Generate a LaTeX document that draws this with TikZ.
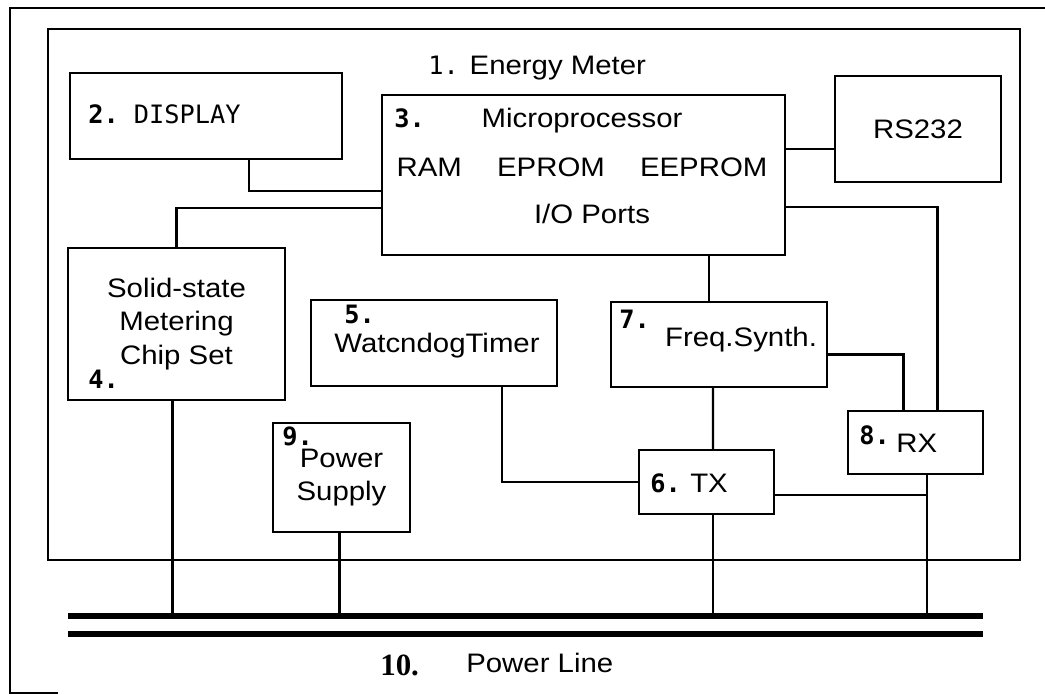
\documentclass[tikz,border=0pt]{standalone}
\usepackage{fontspec}
\setmainfont{Liberation Sans}[FakeStretch=1.1]
\setmonofont{DejaVu Sans Mono}
\newfontfamily\numserif{Liberation Serif}
\usetikzlibrary{calc}
\usetikzlibrary{positioning}

\begin{document}
\begin{tikzpicture}[x=0.025cm, y=-0.025cm,
    blk/.style={draw, line width=1.6pt, inner sep=0pt, align=center,
      font=\fontsize{19}{24}\selectfont},
    wire/.style={line width=1.6pt},
    bus/.style={line width=4pt},
    pageline/.style={line width=1.5pt},
    lbl/.style={inner sep=0pt, font=\fontsize{19}{24}\selectfont},
    num/.style={inner sep=0pt, font=\ttfamily\bfseries\fontsize{18}{20}\selectfont},
  ]
    \useasboundingbox (0,0) rectangle (1045,695);

    % Page frame and meter housing
    \draw[pageline] (58,693) -- (10,693) -- (10,8) -- (1045,8);
    \node[draw, line width=1.6pt, minimum width=24.3cm, minimum height=13.275cm,
      inner sep=0pt] (meter) at (534,294.5) {};
    \node[lbl, anchor=base west] (ttl) at (428,75) {{\ttfamily\fontsize{18}{20}\selectfont 1.} Energy Meter};

    % Blocks
    \node[blk, minimum width=6.8cm,   minimum height=2.15cm]  (disp) at (206,116)   {};
    \node[blk, minimum width=10.075cm, minimum height=4cm]    (mp)   at (583.5,175) {};
    \node[blk, minimum width=4.15cm,  minimum height=2.65cm]  (rs)   at (918,129)   {RS232};
    \node[blk, minimum width=5.425cm, minimum height=3.8cm]   (chip) at (176.5,324) {Solid-state\\Metering\\Chip Set};
    \node[blk, minimum width=6.15cm,  minimum height=2.15cm]  (wd)   at (434,343)   {};
    \node[blk, minimum width=5.4cm,   minimum height=2.125cm] (fs)   at (719,344.5) {};
    \node[blk, minimum width=3.375cm, minimum height=1.575cm] (rx)   at (915.5,442.5) {};
    \node[blk, minimum width=3.375cm, minimum height=1.6cm]   (tx)   at (706.5,482) {};
    \node[blk, minimum width=3.425cm, minimum height=2.725cm] (ps)   at (341.5,477.5) {Power\\Supply};

    % Block texts
    \node[inner sep=0pt, anchor=base west, font=\ttfamily\fontsize{18}{20}\selectfont]
      (dispt) at (88,124) {{\bfseries 2.} DISPLAY};
    \node[num, anchor=base west] (n3) at (394,128) {3.};
    \node[lbl, anchor=base] (mpa) at (582,128) {Microprocessor};
    \node[lbl, anchor=base] (mpb) at (582,177) {RAM\hspace{25pt}EPROM\hspace{25pt}EEPROM};
    \node[lbl, anchor=base] (mpc) at (592,224) {I/O Ports};
    \node[num, anchor=base west] (n4) at (88,388) {4.};
    \node[num, anchor=base west] (n5) at (344,323) {5.};
    \node[lbl, anchor=base] (wdt) at (437,352) {WatcndogTimer};
    \node[num, anchor=base west] (n7) at (619,328) {7.};
    \node[lbl, anchor=base] (fst) at (741,346) {Freq.Synth.};
    \node[num, anchor=base west] (n6) at (650,492) {6.};
    \node[lbl, anchor=base west] (txt) at (690,492) {TX};
    \node[num, anchor=base west] (n8) at (859,444) {8.};
    \node[lbl, anchor=base west] (rxt) at (896,452) {RX};
    \node[num, anchor=base west] (n9) at (282,445) {9.};

    % Power line
    \coordinate (busa) at (68,616);
    \coordinate (busb) at (983,616);
    \coordinate (busc) at (68,634);
    \coordinate (busd) at (983,634);
    \draw[bus] (busa) -- (busb);
    \draw[bus] (busc) -- (busd);
    \node[inner sep=0pt, anchor=base west, font=\numserif\bfseries\fontsize{22}{24}\selectfont]
      (n10) at (380,675) {10.};
    \node[lbl, anchor=base west] (plt) at (466,672) {Power Line};

    % Links inside the meter
    \draw[wire] ($(disp.south)+(43,0)$) |- ($(mp.west)+(0,16)$);
    \draw[wire] ($(mp.west)+(0,33)$) -| (chip.north);
    \draw[wire] ($(mp.east)+(0,-26)$) -- ($(rs.west)+(0,20)$);
    \coordinate (fsin) at ($(fs.north)+(-10,0)$);
    \draw[wire] (fsin) -- (fsin |- mp.south);
    \draw[wire] ($(mp.east)+(0,32)$) -| ($(rx.north)+(22,0)$);
    \draw[wire] ($(fs.east)+(0,10)$) -| ($(rx.north)+(-12,0)$);
    \draw[wire] ($(fs.south)+(-6,0)$) -- ($(tx.north)+(6.5,0)$);
    \draw[wire] ($(wd.south)+(68,0)$) |- (tx.west);
    \coordinate (rxdn) at ($(rx.south)+(11.5,0)$);
    \draw[wire] ($(tx.east)+(0,13)$) -| (rxdn);

    % Drops to the power line
    \coordinate (chipdn) at ($(chip.south)+(-4,0)$);
    \coordinate (psdn) at ($(ps.south)+(-2,0)$);
    \coordinate (txdn) at ($(tx.south)+(6.5,0)$);
    \draw[wire] (chipdn) -- (chipdn |- busa);
    \draw[wire] (psdn) -- (psdn |- busa);
    \draw[wire] (txdn) -- (txdn |- busa);
    \draw[wire] (rxdn) -- (rxdn |- busa);

  \end{tikzpicture}
\end{document}
